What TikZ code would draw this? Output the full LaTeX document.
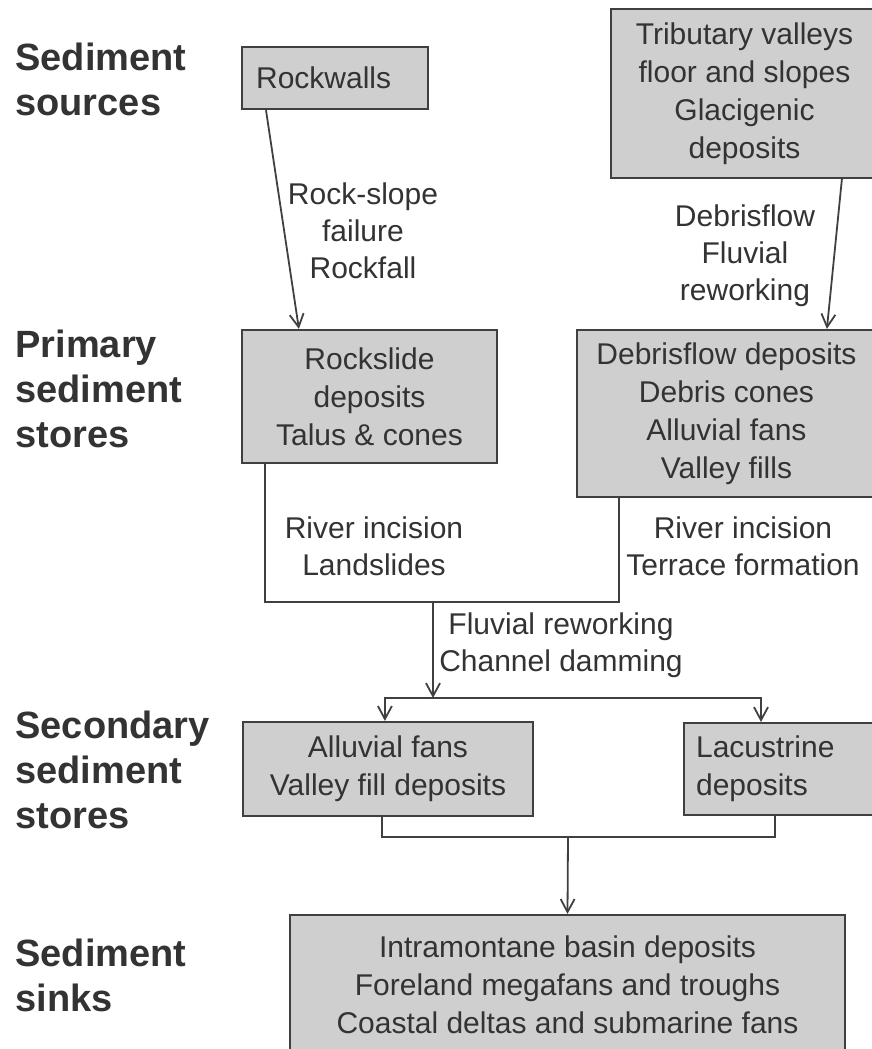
\documentclass[tikz,border=0pt]{standalone}
\usepackage{fontspec}
\setmainfont{Liberation Sans}
\usetikzlibrary{arrows.meta,positioning,calc}
\definecolor{inkgray}{gray}{0.2}
\definecolor{boxgray}{gray}{0.81}
\tikzset{
  store/.style={draw=black!75, line width=1.1pt, fill=boxgray, text=inkgray, inner sep=0pt, align=center, font=\fontsize{15pt}{19pt}\selectfont},
  proc/.style={text=inkgray, inner sep=0pt, align=center, font=\fontsize{15pt}{18.5pt}\selectfont},
  tier/.style={text=black!80, inner sep=0pt, align=left, anchor=north west, font=\fontsize{19pt}{22.5pt}\selectfont\bfseries},
  flow/.style={-{Straight Barb[length=6.5pt,width=7pt]}, line width=0.9pt, black!75},
  link/.style={line width=0.9pt, black!75},
}

\begin{document}
\begin{tikzpicture}[x=0.5pt,y=-0.5pt]
\useasboundingbox (0,0) rectangle (872,1049);
\clip (0,0) rectangle (872,1049);
\node[tier] (t1) at (15,43) {Sediment\\sources};
\node[tier] (t2) at (15,330) {Primary\\sediment\\stores};
\node[tier] (t3) at (15,711) {Secondary\\sediment\\stores};
\node[tier] (t4) at (15,939) {Sediment\\sinks};
\node[store, anchor=north west, text width=79pt, inner xsep=7pt, minimum height=31pt, align=left] (src1) at (241,46) {Rockwalls};
\node[store, minimum width=133.5pt, minimum height=84.5pt] (src2) at (744.5,93.5) {Tributary valleys\\floor and slopes\\Glacigenic\\deposits};
\node[store, minimum width=127.5pt, minimum height=66.5pt] (prim1) at (369.5,396.5) {Rockslide\\deposits\\Talus \& cones};
\node[store, minimum width=149.5pt, minimum height=83.5pt] (prim2) at (726.5,413.5) {Debrisflow deposits\\Debris cones\\Alluvial fans\\Valley fills};
\node[store, minimum width=145pt, minimum height=47pt] (sec1) at (388,769) {Alluvial fans\\Valley fill deposits};
\node[store, anchor=north west, text width=85.5pt, inner xsep=6pt, minimum height=46pt, align=left] (sec2) at (683,722) {Lacustrine\\deposits};
\node[store, minimum width=277.5pt, minimum height=70pt] (sink) at (567.5,985) {Intramontane basin deposits\\Foreland megafans and troughs\\Coastal deltas and submarine fans};
\node[proc] (l1) at (363,231) {Rock-slope\\failure\\Rockfall};
\node[proc] (l2) at (745,256) {Debrisflow\\Fluvial\\reworking};
\node[proc] (l3) at (374,546) {River incision\\Landslides};
\node[proc] (l4) at (743,546) {River incision\\Terrace formation};
\node[proc] (l5) at (561,645) {Fluvial reworking\\Channel damming};
\coordinate (j1) at (433,602);
\coordinate (j2) at (433,698);
\coordinate (j3) at (568,837);
\draw[flow] ($(src1.south west)+(25,0)$) -- ($(prim1.north west)+(58,0)$);
\draw[flow] ($(src2.south west)+(232,0)$) -- ($(prim2.north west)+(251,0)$);
\draw[link] ($(prim1.south west)+(24,0)$) |- (j1) -| ($(prim2.south west)+(43,0)$);
\draw[flow] (j1) -- (j2);
\draw[flow] (j2) -| ($(sec1.north west)+(143,0)$);
\draw[flow] (j2) -| ($(sec2.north west)+(78,0)$);
\draw[link] ($(sec1.south west)+(140,0)$) |- (j3) -| ($(sec2.south west)+(92,0)$);
\draw[flow] (j3) -- (sink.north);
\end{tikzpicture}
\end{document}
